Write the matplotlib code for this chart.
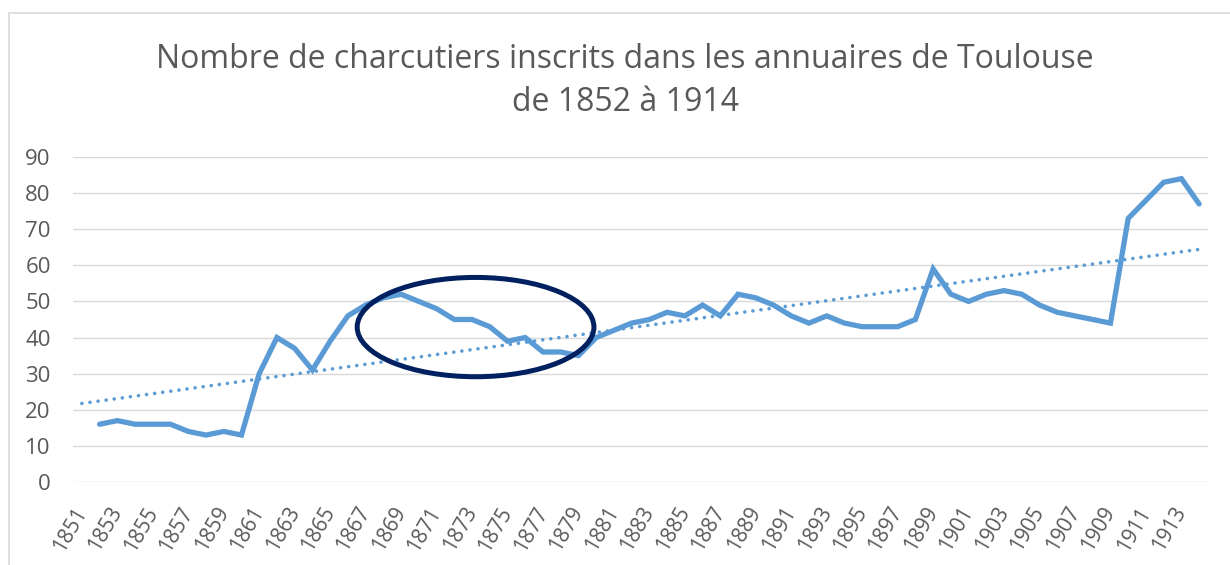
import numpy as np
import matplotlib
matplotlib.use("Agg")
import matplotlib.pyplot as plt
from matplotlib.patches import Ellipse, Rectangle

plt.rcParams['font.family'] = ['Open Sans', 'DejaVu Sans']

years = list(range(1852, 1915))
charcutiers = [16, 17, 16, 16, 16, 14, 13, 14, 13, 30,
               40, 37, 31, 39, 46, 49, 51, 52, 50, 48,
               45, 45, 43, 39, 40, 36, 36, 35, 40, 42,
               44, 45, 47, 46, 49, 46, 52, 51, 49, 46,
               44, 46, 44, 43, 43, 43, 45, 59, 52, 50,
               52, 53, 52, 49, 47, 46, 45, 44, 73, 78,
               83, 84, 77]
tick_years = list(range(1851, 1914, 2))
title = "Nombre de charcutiers inscrits dans les annuaires de Toulouse\nde 1852 à 1914"

blue = '#5B9BD5'
grey = '#595959'

fig = plt.figure(figsize=(12.3, 5.65), dpi=100)
ax = fig.add_axes([73 / 1230, 1 - 482 / 565, 1135 / 1230, 325 / 565])

# chart border (Excel chart area)
fig.patches.append(Rectangle((8.5 / 1230, -0.1), 1.2, 1.1 - 13 / 565,
                             transform=fig.transFigure, fill=False,
                             edgecolor='#D9D9D9', linewidth=1.2))

ax.plot(years, charcutiers, color=blue, linewidth=3.8, solid_joinstyle='miter',
        solid_capstyle='round', zorder=3)

# linear trendline over the whole category range
coef = np.polyfit(years, charcutiers, 1)
tx = np.array([1851, 1914])
ax.plot(tx, np.polyval(coef, tx), color=blue, linewidth=2.6,
        linestyle=(0, (0.01, 2.25)), dash_capstyle='round', zorder=2)

ax.add_patch(Ellipse((1873.2, 42.9), 13.35, 27.5, fill=False,
                     edgecolor='#002060', linewidth=3.6, zorder=4))

ax.set_xlim(1850.5, 1914.5)
ax.set_ylim(0, 90)
ax.set_yticks(range(0, 91, 10))
ax.set_xticks(tick_years)
ax.set_xticklabels([str(y) for y in tick_years], rotation=60, ha='right',
                   va='center', rotation_mode='anchor', fontsize=15)
for lab in ax.get_yticklabels():
    lab.set_fontsize(16)
ax.tick_params(axis='both', length=0, colors=grey)
ax.tick_params(axis='y', pad=16)
ax.tick_params(axis='x', pad=19)
ax.grid(axis='y', color='#D9D9D9', linewidth=1.0)
ax.set_axisbelow(True)
for s in ax.spines.values():
    s.set_visible(False)

fig.text(625 / 1230, 1 - 81 / 565, title, ha='center', va='center',
         fontsize=23, color=grey, linespacing=1.4)

fig.savefig('out.png', dpi=100)
